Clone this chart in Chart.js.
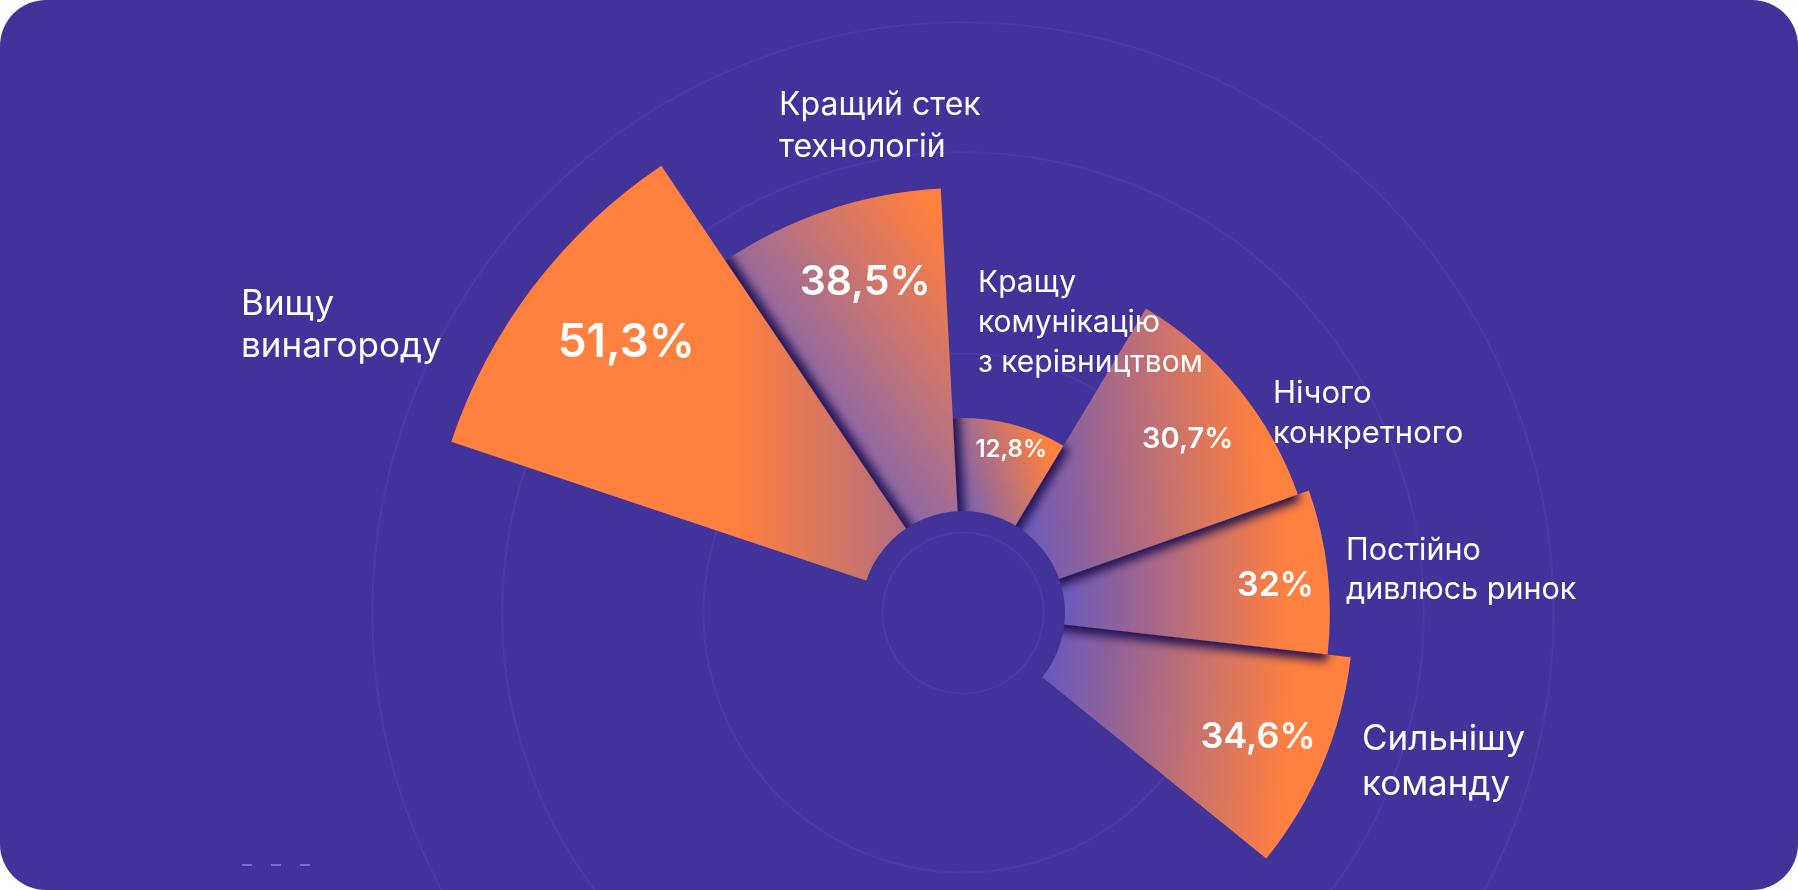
<!DOCTYPE html>
<html>
<head>
<meta charset="utf-8">
<script src="https://cdn.jsdelivr.net/npm/chart.js@4.4.1/dist/chart.umd.min.js"></script>
<style>
  html, body { margin: 0; padding: 0; background: #ffffff; }
  .card {
    position: relative;
    width: 1798px;
    height: 890px;
    background: #42339a;
    border-radius: 46px;
    overflow: hidden;
  }
  #chart { position: absolute; left: 0; top: 0; }
  .dash { position: absolute; top: 864px; width: 10px; height: 2px; background: rgba(135, 120, 235, 0.8); }
</style>
</head>
<body>
<div class="card">
  <canvas id="chart" width="1798" height="1226"></canvas>
  <span class="dash" style="left:242px"></span>
  <span class="dash" style="left:271px"></span>
  <span class="dash" style="left:300px"></span>
</div>
<script>
// data
const categories = [
  ['Вищу', 'винагороду'],
  ['Кращий стек', 'технологій'],
  ['Кращу', 'комунікацію', 'з керівництвом'],
  ['Нічого', 'конкретного'],
  ['Постійно', 'дивлюсь ринок'],
  ['Сильнішу', 'команду']
];
const shares = [51.3, 38.5, 12.8, 30.7, 32, 34.6];
const shareLabels = ['51,3%', '38,5%', '12,8%', '30,7%', '32%', '34,6%'];
const sectorAngles = [37.5, 31, 34, 39.5, 26, 32.5];
const ringValues = [0, 20, 42.5, 57];

// look
const BG = '#42339a';
const ORANGE = '#ff803f';
const START_ANGLE = -71.5;
const HOLE_R = 102;
const fillStyle = [
  { dir: 180, from: '#b46d7e', at: 0.37 },
  { dir: -37, from: '#8a66aa', at: 0.9 },
  { dir: -20, from: '#7060b8', at: 0.85 },
  { dir: -5, from: '#6757be', at: 0.88 },
  { dir: 0, from: '#6757be', at: 0.84 },
  { dir: 5, from: '#6757be', at: 0.82 }
];
// percent labels: size, share of outer radius, angular nudge (deg)
const pctStyle = [
  { size: 46, f: 0.80, da: 1.5 },
  { size: 41, f: 0.81, da: 2 },
  { size: 24, f: 0.87, da: 2.5 },
  { size: 29, f: 0.80, da: 1.5 },
  { size: 34, f: 0.855, da: 1.5 },
  { size: 36, f: 0.82, da: 0 }
];
const labelLayout = [
  { x: 241, y: 315, size: 35, gap: 42 },
  { x: 779, y: 115, size: 32, gap: 42 },
  { x: 978, y: 292, size: 30, gap: 40 },
  { x: 1273, y: 403, size: 31, gap: 40 },
  { x: 1346, y: 560, size: 30.5, gap: 39 },
  { x: 1362, y: 750, size: 35, gap: 45 }
];

function sectorFill(context) {
  const chart = context.chart;
  const scale = chart.scales.r;
  const i = context.dataIndex;
  if (!scale || !chart.chartArea) return ORANGE;
  const cx = scale.xCenter, cy = scale.yCenter;
  let a0 = (START_ANGLE - 90) * Math.PI / 180;
  for (let k = 0; k < i; k++) a0 += sectorAngles[k] * Math.PI / 180;
  const a1 = a0 + sectorAngles[i] * Math.PI / 180;
  const outer = scale.getDistanceFromCenterForValue(shares[i]);
  const th = fillStyle[i].dir * Math.PI / 180;
  const dx = Math.cos(th), dy = Math.sin(th);
  let lo = Infinity, hi = -Infinity;
  for (let s = 0; s <= 24; s++) {
    const a = a0 + (a1 - a0) * s / 24;
    [HOLE_R, outer].forEach(r => {
      const p = r * Math.cos(a) * dx + r * Math.sin(a) * dy;
      lo = Math.min(lo, p);
      hi = Math.max(hi, p);
    });
  }
  const g = chart.ctx.createLinearGradient(cx + dx * lo, cy + dy * lo, cx + dx * hi, cy + dy * hi);
  g.addColorStop(0, fillStyle[i].from);
  g.addColorStop(fillStyle[i].at, ORANGE);
  g.addColorStop(1, ORANGE);
  return g;
}

const fanPlugin = {
  id: 'fan',
  beforeDatasetDraw(chart, args) {
    const ctx = chart.ctx;
    const arcs = args.meta.data;
    arcs.forEach(arc => arc.draw(ctx));
    // each sector throws a shadow onto the next one only
    for (let i = 0; i < arcs.length - 1; i++) {
      const arc = arcs[i];
      const next = arcs[i + 1];
      const n = arc.endAngle + Math.PI / 2;
      ctx.save();
      ctx.beginPath();
      ctx.moveTo(next.x, next.y);
      ctx.arc(next.x, next.y, next.outerRadius, next.startAngle, next.endAngle);
      ctx.closePath();
      ctx.clip();
      ctx.shadowColor = 'rgba(30, 16, 80, 0.95)';
      ctx.shadowBlur = 10;
      ctx.shadowOffsetX = Math.cos(n) * 7;
      ctx.shadowOffsetY = Math.sin(n) * 7;
      arc.draw(ctx);
      ctx.restore();
    }
    return false;
  },
  afterDatasetsDraw(chart) {
    const ctx = chart.ctx;
    const scale = chart.scales.r;
    const cx = scale.xCenter, cy = scale.yCenter;

    ctx.save();
    ctx.fillStyle = BG;
    ctx.beginPath();
    ctx.arc(cx, cy, HOLE_R, 0, Math.PI * 2);
    ctx.fill();
    ctx.strokeStyle = 'rgba(95, 80, 200, 0.28)';
    ctx.lineWidth = 2;
    ctx.beginPath();
    ctx.arc(cx, cy, scale.getDistanceFromCenterForValue(ringValues[0]), 0, Math.PI * 2);
    ctx.stroke();

    ctx.fillStyle = '#ffffff';
    ctx.textAlign = 'center';
    ctx.textBaseline = 'middle';
    chart.getDatasetMeta(0).data.forEach((arc, i) => {
      const p = pctStyle[i];
      const mid = (arc.startAngle + arc.endAngle) / 2 + p.da * Math.PI / 180;
      const r = arc.outerRadius * p.f;
      ctx.font = '600 ' + p.size + 'px Inter';
      ctx.fillText(shareLabels[i], arc.x + Math.cos(mid) * r, arc.y + Math.sin(mid) * r);
    });

    ctx.textAlign = 'left';
    ctx.textBaseline = 'alphabetic';
    categories.forEach((lines, i) => {
      const l = labelLayout[i];
      ctx.font = '400 ' + l.size + 'px Inter';
      lines.forEach((t, j) => ctx.fillText(t, l.x, l.y + j * l.gap));
    });
    ctx.restore();
  }
};

new Chart('chart', {
  type: 'polarArea',
  data: {
    labels: categories.map(c => c.join(' ')),
    datasets: [{
      data: shares,
      angle: sectorAngles,
      backgroundColor: sectorFill,
      borderWidth: 0,
      clip: false
    }]
  },
  options: {
    responsive: false,
    animation: false,
    layout: { padding: { left: 128 } },
    plugins: {
      legend: { display: false },
      tooltip: { enabled: false }
    },
    scales: {
      r: {
        min: -9,
        max: 59.5,
        startAngle: START_ANGLE,
        ticks: { display: false },
        afterBuildTicks: scale => {
          scale.ticks = ringValues.map(v => ({ value: v }));
        },
        grid: { color: 'rgba(95, 80, 200, 0.28)', lineWidth: 2 },
        angleLines: { display: false },
        pointLabels: { display: false }
      }
    }
  },
  plugins: [fanPlugin]
});
</script>
</body>
</html>
